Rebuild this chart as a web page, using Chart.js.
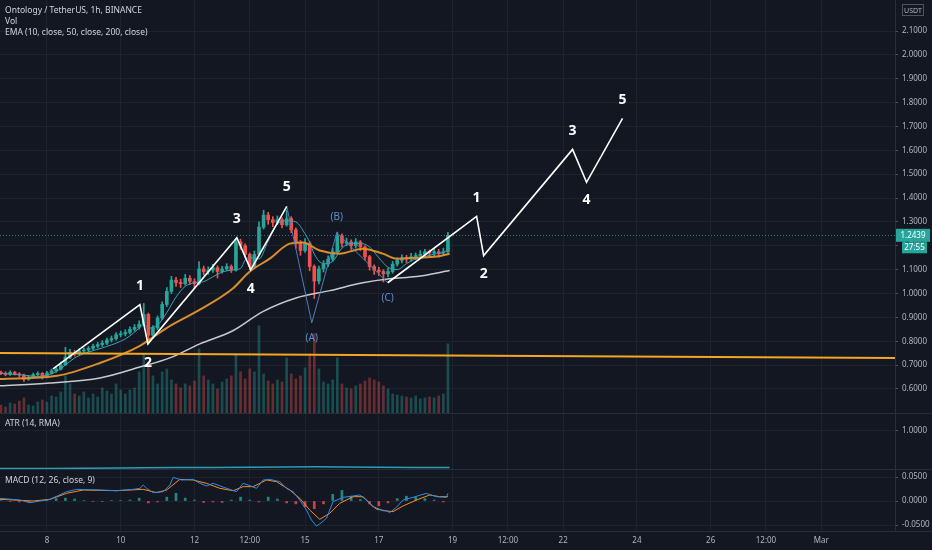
<!DOCTYPE html>
<html>
<head>
<meta charset="utf-8">
<script src="https://cdn.jsdelivr.net/npm/chart.js@4.4.1/dist/chart.umd.min.js"></script>
<style>
  html, body { margin: 0; padding: 0; background: #131722; }
  #wrap { position: relative; width: 932px; height: 550px; overflow: hidden; background: #131722; }
  canvas { position: absolute; left: 0; }
  .sep { position: absolute; left: 0; width: 932px; height: 1px; background: #2a2e39; }
</style>
</head>
<body>
<div id="wrap">
  <canvas id="mainChart" width="932" height="414" style="top:0"></canvas>
  <canvas id="atrChart" width="932" height="56" style="top:414px"></canvas>
  <canvas id="macdChart" width="932" height="80" style="top:470px"></canvas>
  <div class="sep" style="top:413px"></div>
  <div class="sep" style="top:469px"></div>
  <div class="sep" style="top:531px"></div>
</div>
<script>
// ------------------- DATOS -------------------

// eje de tiempo (días de febrero), etiquetas del eje
const tickDays = [8, 10, 12, 13.5, 15, 17, 19, 20.5, 22, 24, 26, 27.5, 29];
const tickLabels = ['8', '10', '12', '12:00', '15', '17', '19', '12:00', '22', '24', '26', '12:00', 'Mar'];
const priceTicks = [0.6, 0.7, 0.8, 0.9, 1.0, 1.1, 1.2, 1.3, 1.4, 1.5, 1.6, 1.7, 1.8, 1.9, 2.0, 2.1];
const atrTicks = [1.0];
const macdTicks = [0.05, 0, -0.05];

// velas de 3h desde el 6 feb 18:00
const FIRST_CANDLE = 6.75;
const CANDLE_STEP = 0.125;
const firstOpen = 0.668;
const closes = [
  0.666, 0.661, 0.669, 0.663, 0.658, 0.640, 0.650, 0.660, 0.665, 0.650,
  0.667, 0.676, 0.683, 0.701, 0.733, 0.753, 0.748, 0.759, 0.763, 0.770,
  0.779, 0.786, 0.792, 0.805, 0.811, 0.827, 0.831, 0.837, 0.850, 0.858,
  0.871, 0.912, 0.825, 0.856, 0.897, 0.954, 1.009, 1.056, 1.046, 1.041,
  1.064, 1.051, 1.041, 1.103, 1.092, 1.098, 1.108, 1.092, 1.103, 1.113,
  1.098, 1.216, 1.200, 1.164, 1.113, 1.164, 1.278, 1.329, 1.309, 1.298,
  1.309, 1.288, 1.314, 1.267, 1.211, 1.180, 1.211, 1.113, 1.052, 1.103,
  1.123, 1.144, 1.175, 1.242, 1.211, 1.216, 1.200, 1.216, 1.195, 1.154,
  1.113, 1.098, 1.092, 1.082, 1.092, 1.123, 1.139, 1.149, 1.144, 1.154,
  1.159, 1.164, 1.175, 1.170, 1.175, 1.170, 1.175, 1.2439
];
const highs = [
  0.675, 0.672, 0.676, 0.674, 0.668, 0.662, 0.657, 0.666, 0.672, 0.669,
  0.674, 0.683, 0.692, 0.712, 0.775, 0.766, 0.762, 0.768, 0.772, 0.778,
  0.788, 0.795, 0.803, 0.813, 0.822, 0.836, 0.842, 0.848, 0.860, 0.870,
  0.885, 0.958, 0.918, 0.866, 0.906, 0.965, 1.025, 1.072, 1.068, 1.060,
  1.080, 1.075, 1.062, 1.134, 1.115, 1.112, 1.122, 1.116, 1.114, 1.125,
  1.120, 1.226, 1.228, 1.208, 1.170, 1.178, 1.300, 1.349, 1.340, 1.322,
  1.325, 1.318, 1.349, 1.322, 1.275, 1.222, 1.230, 1.218, 1.120, 1.115,
  1.138, 1.158, 1.190, 1.257, 1.250, 1.232, 1.225, 1.230, 1.222, 1.200,
  1.160, 1.120, 1.110, 1.100, 1.105, 1.135, 1.150, 1.162, 1.160, 1.168,
  1.170, 1.180, 1.185, 1.182, 1.188, 1.185, 1.190, 1.256
];
const lows = [
  0.660, 0.655, 0.657, 0.658, 0.650, 0.632, 0.636, 0.646, 0.655, 0.642,
  0.646, 0.662, 0.670, 0.679, 0.698, 0.727, 0.738, 0.742, 0.750, 0.756,
  0.764, 0.772, 0.778, 0.786, 0.797, 0.804, 0.818, 0.822, 0.830, 0.842,
  0.851, 0.865, 0.789, 0.812, 0.848, 0.890, 0.945, 1.000, 1.030, 1.025,
  1.035, 1.038, 1.022, 1.036, 1.078, 1.080, 1.088, 1.065, 1.085, 1.095,
  1.088, 1.094, 1.185, 1.150, 1.100, 1.108, 1.158, 1.270, 1.290, 1.280,
  1.288, 1.275, 1.282, 1.255, 1.190, 1.160, 1.172, 1.095, 0.979, 1.040,
  1.090, 1.112, 1.135, 1.168, 1.195, 1.200, 1.185, 1.190, 1.180, 1.140,
  1.098, 1.080, 1.075, 1.048, 1.070, 1.085, 1.115, 1.128, 1.130, 1.135,
  1.142, 1.148, 1.150, 1.155, 1.158, 1.152, 1.160, 1.168
];
// volumen (miles de ONT)
const volumes = [
  90, 70, 110, 100, 130, 160, 90, 80, 120, 140,
  120, 180, 170, 220, 380, 300, 200, 180, 220, 160,
  200, 170, 260, 230, 200, 300, 240, 200, 240, 260,
  420, 600, 520, 380, 300, 420, 450, 340, 300, 260,
  300, 280, 330, 650, 380, 340, 300, 250, 320, 350,
  380, 600, 420, 350, 450, 420, 880, 400, 330, 300,
  340, 320, 560, 400, 350, 380, 460, 600, 800, 450,
  320, 300, 340, 560, 300, 260, 250, 280, 300, 330,
  360, 340, 320, 280, 250, 200, 190, 180, 170, 160,
  180, 150, 160, 170, 160, 180, 200, 700
];

// medias móviles [día, precio]
const ema10 = [
  [6.75, 0.665], [7.25, 0.660], [7.75, 0.652], [8.0, 0.658], [8.25, 0.672], [8.5, 0.700],
  [8.75, 0.730], [9.0, 0.748], [9.5, 0.772], [10.0, 0.800], [10.25, 0.822], [10.5, 0.855],
  [10.625, 0.870], [10.75, 0.855], [11.0, 0.868], [11.25, 0.920], [11.5, 0.985], [11.75, 1.030],
  [12.0, 1.045], [12.25, 1.050], [12.5, 1.070], [12.75, 1.090], [13.0, 1.098], [13.25, 1.105],
  [13.375, 1.140], [13.5, 1.150], [13.75, 1.145], [14.0, 1.220], [14.25, 1.290], [14.5, 1.305],
  [14.75, 1.300], [15.0, 1.250], [15.125, 1.215], [15.25, 1.165], [15.5, 1.125], [15.75, 1.135],
  [16.0, 1.190], [16.25, 1.210], [16.5, 1.210], [16.75, 1.195], [17.0, 1.150], [17.25, 1.110],
  [17.5, 1.100], [17.75, 1.125], [18.0, 1.145], [18.25, 1.155], [18.5, 1.165], [18.75, 1.172],
  [18.92, 1.190]
];
const ema50 = [
  [6.726, 0.642], [8.271, 0.655], [9.436, 0.709], [10.520, 0.781], [11.252, 0.856], [12.146, 0.932],
  [13.041, 1.021], [13.501, 1.092], [14.043, 1.146], [14.585, 1.209], [14.938, 1.214], [15.398, 1.180],
  [15.940, 1.167], [16.564, 1.188], [17.106, 1.167], [17.485, 1.146], [18.027, 1.150], [18.569, 1.155],
  [18.921, 1.167]
];
const ema200 = [
  [6.726, 0.613], [8.081, 0.625], [9.436, 0.646], [10.520, 0.692], [11.333, 0.730], [12.146, 0.789],
  [13.041, 0.844], [13.854, 0.924], [14.775, 0.982], [15.669, 1.012], [16.564, 1.045], [17.295, 1.062],
  [18.027, 1.071], [18.921, 1.096]
];

// dibujos: línea horizontal y ondas de Elliott [día, precio]
const supportLine = [[6.726, 0.751], [31.0, 0.730]];
const waveImpulse1 = [[8.163, 0.684], [10.520, 0.953], [10.737, 0.789], [13.149, 1.234], [13.528, 1.100], [14.504, 1.365]];
const waveImpulse1Tags = ['', '1', '2', '3', '4', '5'];
const waveABC = [[14.504, 1.365], [15.182, 0.877], [15.859, 1.255], [17.241, 1.045]];
const waveABCTags = ['', '(A)', '(B)', '(C)'];
const waveImpulse2 = [[17.241, 1.045], [19.653, 1.323], [19.843, 1.159], [22.255, 1.604], [22.634, 1.466], [23.610, 1.734]];
const waveImpulse2Tags = ['', '1', '2', '3', '4', '5'];

// ATR (14, RMA)
const atr = [
  [6.726, 0.012], [8.0, 0.014], [9.0, 0.020], [10.0, 0.024], [10.6, 0.032], [11.5, 0.038], [12.5, 0.040],
  [13.5, 0.044], [14.5, 0.050], [15.3, 0.060], [16.0, 0.056], [17.0, 0.046], [18.0, 0.040], [18.92, 0.038]
];

// MACD (12, 26, close, 9)
const macdLine = [
  [6.726, 0.0056], [7.268, 0.0020], [7.539, -0.0035], [8.081, 0.0035], [8.533, 0.0194], [8.804, 0.0243],
  [9.436, 0.0229], [9.888, 0.0215], [10.339, 0.0243], [10.520, 0.0264], [10.610, 0.0333], [10.702, 0.0264],
  [10.881, 0.0174], [11.152, 0.0194], [11.333, 0.0333], [11.423, 0.0493], [11.650, 0.0437], [11.965, 0.0451],
  [12.146, 0.0368], [12.328, 0.0313], [12.507, 0.0368], [12.870, 0.0264], [13.141, 0.0194], [13.320, 0.0368],
  [13.456, 0.0333], [13.683, 0.0264], [13.862, 0.0437], [14.043, 0.0451], [14.314, 0.0403], [14.496, 0.0264],
  [14.675, 0.0194], [14.856, 0.0020], [15.038, -0.0188], [15.173, -0.0396], [15.309, -0.0521], [15.398, -0.0479],
  [15.580, -0.0361], [15.759, -0.0014], [16.030, 0.0076], [16.301, 0.0104], [16.482, 0.0125], [16.664, 0.0020],
  [16.933, -0.0174], [17.206, -0.0201], [17.295, -0.0243], [17.477, -0.0132], [17.656, 0.0020], [17.927, 0.0076],
  [18.290, 0.0160], [18.561, 0.0090], [18.832, 0.0076], [18.876, 0.0160]
];
const macdSignal = [
  [6.726, 0.0035], [7.629, 0.0000], [8.081, 0.0035], [8.533, 0.0160], [8.984, 0.0229], [9.888, 0.0215],
  [10.610, 0.0243], [10.973, 0.0174], [11.244, 0.0229], [11.604, 0.0451], [11.965, 0.0437], [12.328, 0.0368],
  [12.688, 0.0264], [13.049, 0.0215], [13.320, 0.0299], [13.591, 0.0299], [13.954, 0.0437], [14.225, 0.0403],
  [14.585, 0.0229], [14.856, 0.0056], [15.127, -0.0188], [15.398, -0.0382], [15.669, -0.0257], [15.940, -0.0049],
  [16.301, 0.0090], [16.572, 0.0090], [16.843, -0.0118], [17.114, -0.0201], [17.385, -0.0222], [17.656, -0.0104],
  [18.019, 0.0020], [18.379, 0.0125], [18.650, 0.0090], [18.876, 0.0090]
];
// histograma cada 6h desde el 6 feb 18:00
const HIST_START = 6.75;
const HIST_STEP = 0.25;
const macdHist = [
  0.001, -0.001, -0.002, -0.002, 0.001, 0.002, 0.005, 0.006, 0.004, 0.001,
  -0.001, -0.001, 0.001, 0.001, 0.002, 0.006, -0.004, -0.002, 0.008, 0.016,
  0.006, 0.002, -0.003, -0.002, -0.003, 0.002, 0.008, 0.002, -0.002, 0.008,
  0.004, -0.004, -0.006, -0.012, -0.016, -0.006, 0.014, 0.022, 0.010, 0.003,
  -0.006, -0.010, -0.004, 0.005, 0.010, 0.008, 0.005, 0.002, -0.002
];

// ------------------- CONFIGURACIÓN -------------------

const X_MIN = 6.726, X_MAX = 31.0;
const GRID = '#1e222d';
const AXIS_LINE = '#2a2e39';
const TXT = '#b2b5be';
const UP = '#26a69a', DOWN = '#ef5350';
const FONT = "'Noto Sans', 'DejaVu Sans', sans-serif";

Chart.defaults.font.family = FONT;
Chart.defaults.animation = false;

const toXY = arr => arr.map(p => ({ x: p[0], y: p[1] }));
const candleX = closes.map((c, i) => FIRST_CANDLE + i * CANDLE_STEP);
const opens = closes.map((c, i) => (i === 0 ? firstOpen : closes[i - 1]));
const isUp = i => closes[i] >= opens[i];

function makeX(showLabels) {
  return {
    type: 'linear', min: X_MIN, max: X_MAX, offset: false,
    grid: { color: GRID, drawTicks: false, offset: false },
    border: { display: false },
    afterBuildTicks: ax => { ax.ticks = tickDays.map(v => ({ value: v })); },
    ticks: {
      display: showLabels, autoSkip: false, maxRotation: 0, color: TXT, padding: 5,
      font: { size: 8 }, callback: (v, i) => tickLabels[i]
    },
    afterFit: ax => { ax.height = showLabels ? 19 : 0; ax.paddingLeft = 0; ax.paddingRight = 0; }
  };
}

function makeY(min, max, ticks) {
  return {
    position: 'right', min, max,
    grid: { color: GRID, tickLength: 3, tickColor: '#50535e' },
    border: { color: AXIS_LINE },
    afterBuildTicks: ax => { ax.ticks = ticks.map(v => ({ value: v })); },
    ticks: { color: TXT, padding: 4, font: { size: 8 }, callback: v => v.toFixed(4) },
    afterFit: ax => { ax.width = 37; ax.paddingTop = 0; ax.paddingBottom = 0; }
  };
}

const baseOptions = {
  responsive: false,
  devicePixelRatio: 1,
  layout: { padding: 0 },
  plugins: { legend: { display: false }, tooltip: { enabled: false } },
  events: []
};

function lineSet(data, color, width, order, extra) {
  return Object.assign({
    type: 'line', data: toXY(data), borderColor: color, borderWidth: width,
    pointRadius: 0, fill: false, order, yAxisID: 'y'
  }, extra || {});
}

// etiquetas de las ondas, arriba en picos y abajo en valles
function drawTags(ctx, xs, ys, pts, tags, gap) {
  pts.forEach((p, i) => {
    if (!tags[i]) return;
    const prev = pts[i - 1];
    const peak = prev && p[1] > prev[1];
    const px = xs.getPixelForValue(p[0]);
    const py = ys.getPixelForValue(p[1]);
    ctx.fillText(tags[i], px, peak ? py - gap : py + gap);
  });
}

const mainDecor = {
  id: 'mainDecor',
  beforeDatasetsDraw(chart) {
    const { ctx, chartArea, scales } = chart;
    const last = closes[closes.length - 1];
    const py = Math.round(scales.y.getPixelForValue(last)) + 0.5;
    ctx.save();
    ctx.strokeStyle = 'rgba(38,166,154,0.7)';
    ctx.setLineDash([1, 2]);
    ctx.lineWidth = 1;
    ctx.beginPath();
    ctx.moveTo(chartArea.left, py);
    ctx.lineTo(chartArea.right, py);
    ctx.stroke();
    ctx.restore();
  },
  afterDatasetsDraw(chart) {
    const { ctx, scales } = chart;
    ctx.save();
    ctx.textAlign = 'center';
    ctx.textBaseline = 'middle';
    ctx.fillStyle = '#ffffff';
    ctx.font = `bold 14px ${FONT}`;
    drawTags(ctx, scales.x, scales.y, waveImpulse1, waveImpulse1Tags, 19);
    drawTags(ctx, scales.x, scales.y, waveImpulse2, waveImpulse2Tags, 18);
    ctx.fillStyle = '#5b8fd0';
    ctx.font = `10px ${FONT}`;
    drawTags(ctx, scales.x, scales.y, waveABC, waveABCTags, 15);
    ctx.restore();
  },
  afterDraw(chart) {
    const { ctx, chartArea, scales } = chart;
    ctx.save();
    // leyenda
    ctx.textAlign = 'left';
    ctx.textBaseline = 'middle';
    ctx.fillStyle = '#d1d4dc';
    ctx.font = `8.5px ${FONT}`;
    ctx.fillText('Ontology / TetherUS, 1h, BINANCE', 5, 11);
    ctx.fillText('Vol', 5, 22);
    ctx.fillText('EMA (10, close, 50, close, 200, close)', 5, 33);
    // caja USDT
    ctx.strokeStyle = '#50535e';
    ctx.strokeRect(902.5, 4.5, 21, 11);
    ctx.fillStyle = TXT;
    ctx.font = `7px ${FONT}`;
    ctx.textAlign = 'center';
    ctx.fillText('USDT', 913, 10.5);
    // precio actual
    const last = closes[closes.length - 1];
    const py = scales.y.getPixelForValue(last);
    const ax = chartArea.right + 1;
    ctx.fillStyle = UP;
    ctx.fillRect(ax, py - 6.5, 34, 13);
    ctx.fillRect(ax + 6, py + 7, 25, 11);
    ctx.fillStyle = '#ffffff';
    ctx.font = `8px ${FONT}`;
    ctx.fillText(last.toFixed(4), ax + 17, py + 0.5);
    ctx.fillText('27:55', ax + 18.5, py + 12.5);
    ctx.restore();
  }
};

function paneTitle(text, y) {
  return {
    id: 'paneTitle',
    afterDraw(chart) {
      const ctx = chart.ctx;
      ctx.save();
      ctx.textAlign = 'left';
      ctx.textBaseline = 'middle';
      ctx.fillStyle = '#d1d4dc';
      ctx.font = `8.5px ${FONT}`;
      ctx.fillText(text, 5, y);
      ctx.restore();
    }
  };
}

// ------------------- GRÁFICO PRINCIPAL -------------------

new Chart(document.getElementById('mainChart').getContext('2d'), {
  type: 'bar',
  data: {
    datasets: [
      {
        label: 'Vol', yAxisID: 'vol', order: 10, grouped: false, barThickness: 2,
        data: volumes.map((v, i) => ({ x: candleX[i], y: v })),
        backgroundColor: ctx => (isUp(ctx.dataIndex) ? 'rgba(38,166,154,0.38)' : 'rgba(239,83,80,0.38)')
      },
      {
        label: 'wicks', yAxisID: 'y', order: 8, grouped: false, barThickness: 1,
        data: closes.map((c, i) => ({ x: candleX[i], y: [lows[i], highs[i]] })),
        backgroundColor: ctx => (isUp(ctx.dataIndex) ? UP : DOWN)
      },
      {
        label: 'bodies', yAxisID: 'y', order: 7, grouped: false, barThickness: 3, minBarLength: 1,
        data: closes.map((c, i) => ({ x: candleX[i], y: [Math.min(opens[i], c), Math.max(opens[i], c)] })),
        backgroundColor: ctx => (isUp(ctx.dataIndex) ? UP : DOWN)
      },
      lineSet(ema200, '#c9cace', 1.5, 6, { cubicInterpolationMode: 'monotone' }),
      lineSet(ema50, '#d98e2b', 2, 5, { cubicInterpolationMode: 'monotone' }),
      lineSet(ema10, '#3aa3b5', 1, 5, { cubicInterpolationMode: 'monotone' }),
      lineSet(supportLine, '#f5a623', 2, 4),
      lineSet(waveABC, '#4f7fb8', 1, 3),
      lineSet(waveImpulse1, '#ffffff', 1.6, 2),
      lineSet(waveImpulse2, '#ffffff', 1.6, 2)
    ]
  },
  options: Object.assign({}, baseOptions, {
    scales: {
      x: makeX(false),
      y: makeY(0.495, 2.230, priceTicks),
      vol: { display: false, min: 0, max: 4130 }
    }
  }),
  plugins: [mainDecor]
});

// ------------------- ATR -------------------

new Chart(document.getElementById('atrChart').getContext('2d'), {
  type: 'line',
  data: { datasets: [lineSet(atr, '#2a9fb5', 1.5, 1)] },
  options: Object.assign({}, baseOptions, {
    scales: { x: makeX(false), y: makeY(-0.026, 1.447, atrTicks) }
  }),
  plugins: [paneTitle('ATR (14, RMA)', 10)]
});

// ------------------- MACD -------------------

new Chart(document.getElementById('macdChart').getContext('2d'), {
  type: 'bar',
  data: {
    datasets: [
      {
        label: 'Histogram', yAxisID: 'y', order: 5, grouped: false, barThickness: 2,
        data: macdHist.map((v, i) => ({ x: HIST_START + i * HIST_STEP, y: v })),
        backgroundColor: ctx => (ctx.raw && ctx.raw.y >= 0 ? 'rgba(38,166,154,0.8)' : 'rgba(239,83,80,0.8)')
      },
      lineSet(macdSignal, '#ff8c1a', 1, 2),
      lineSet(macdLine, '#2f8de4', 1, 1)
    ]
  },
  options: Object.assign({}, baseOptions, {
    scales: { x: makeX(true), y: makeY(-0.0625, 0.0646, macdTicks) }
  }),
  plugins: [paneTitle('MACD (12, 26, close, 9)', 11)]
});
</script>
</body>
</html>
